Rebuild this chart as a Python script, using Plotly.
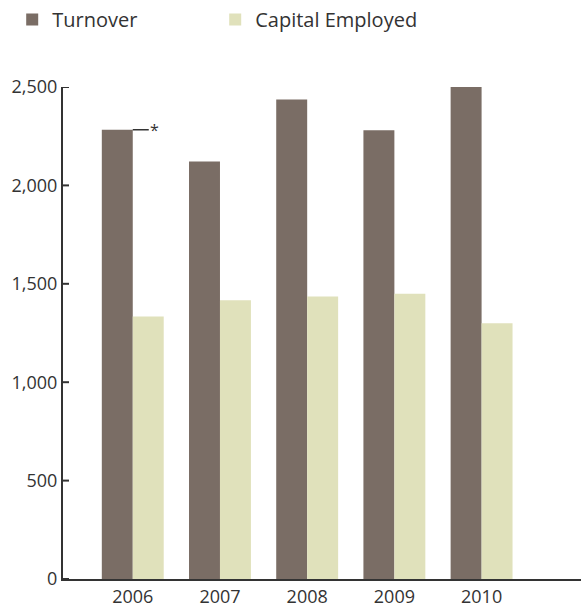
import plotly.graph_objects as go

# Annual figures
years = ["2006", "2007", "2008", "2009", "2010"]
turnover = [2283, 2122, 2436, 2280, 2506]
capital_employed = [1334, 1416, 1435, 1450, 1300]

y_tick_values = [0, 500, 1000, 1500, 2000, 2500]
y_tick_labels = ["0", "500", "1,000", "1,500", "2,000", "2,500"]

TURNOVER_COLOR = "#7a6d65"
CAPITAL_COLOR = "#e0e1bb"
INK = "#333333"
FONT = "Open Sans, Noto Sans, sans-serif"

WIDTH, HEIGHT = 581, 610
MARGIN = dict(l=63, r=0, t=87, b=31)
TICK_LEN_PX = 6
plot_w = WIDTH - MARGIN["l"] - MARGIN["r"]

fig = go.Figure()
fig.add_trace(go.Bar(name="Turnover", x=years, y=turnover,
                     marker=dict(color=TURNOVER_COLOR)))
fig.add_trace(go.Bar(name="Capital Employed", x=years, y=capital_employed,
                     marker=dict(color=CAPITAL_COLOR)))

# Short tick marks pointing into the plot, drawn on a hidden pixel-scaled x axis
tick_x, tick_y = [], []
for v in y_tick_values:
    tick_x += [0, TICK_LEN_PX, None]
    tick_y += [v, v, None]
fig.add_trace(go.Scatter(x=tick_x, y=tick_y, xaxis="x2", yaxis="y",
                         mode="lines", line=dict(color=INK, width=2),
                         showlegend=False, hoverinfo="skip",
                         cliponaxis=False))

# Footnote marker on the 2006 turnover bar: short leader line plus asterisk.
# Category axes take the category index for annotation positions.
note_idx = years.index("2006")
fig.add_annotation(x=note_idx, y=turnover[note_idx], xref="x", yref="y",
                   text="*", showarrow=True, arrowhead=0, arrowwidth=1.5,
                   arrowcolor=INK, ax=22, ay=0, standoff=0,
                   font=dict(size=16, color=INK, family=FONT))

fig.update_layout(
    template="none",
    width=WIDTH, height=HEIGHT,
    margin=MARGIN,
    paper_bgcolor="white", plot_bgcolor="white",
    barmode="group", bargap=0.29, bargroupgap=0,
    font=dict(family=FONT, color=INK, size=18),
    showlegend=True,
    legend=dict(orientation="h", xref="container", yref="container",
                x=0.021, y=1.0, xanchor="left", yanchor="top",
                font=dict(size=20, color=INK, family=FONT),
                entrywidth=158, entrywidthmode="pixels",
                bgcolor="rgba(0,0,0,0)"),
    xaxis=dict(type="category", range=[-0.8, 5.14], showline=True,
               linecolor=INK, linewidth=2, ticks="", showgrid=False,
               zeroline=False,
               tickfont=dict(size=18, color=INK, family=FONT)),
    xaxis2=dict(overlaying="x", range=[0, plot_w], visible=False,
                showgrid=False, zeroline=False),
    yaxis=dict(range=[0, 2500], tickvals=y_tick_values, ticktext=y_tick_labels,
               showline=True, linecolor=INK, linewidth=2, ticks="",
               showgrid=False, zeroline=False,
               tickfont=dict(size=18, color=INK, family=FONT)),
)

fig.write_html("out.html")
